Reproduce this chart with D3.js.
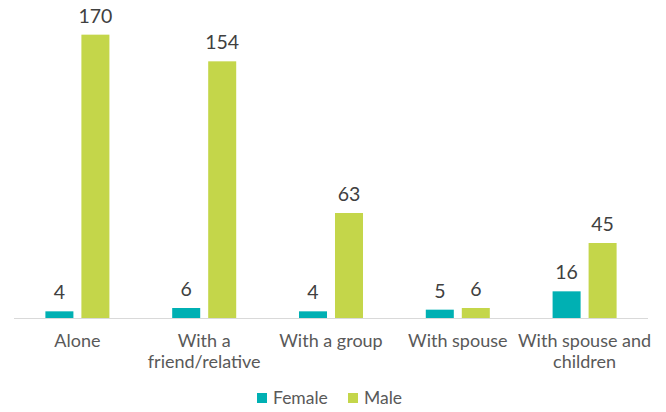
<!DOCTYPE html>
<html>
<head>
<meta charset="utf-8">
<script src="https://cdn.jsdelivr.net/npm/d3@7"></script>
<style>
  body { margin: 0; background: #fff; }
  svg { font-family: Lato, "Open Sans", sans-serif; }
</style>
</head>
<body>
<div id="chart"></div>
<script>
// data
var categories = ["Alone", "With a\nfriend/relative", "With a group", "With spouse", "With spouse and\nchildren"];
var seriesNames = ["Female", "Male"];
var female = [4, 6, 4, 5, 16];
var male = [170, 154, 63, 6, 45];
var colors = ["#00B0B3", "#C4D64A"];

var width = 666, height = 412;
var left = 14, right = 648, baseline = 318;

var svg = d3.select("#chart").append("svg")
    .attr("width", width)
    .attr("height", height);

var x0 = d3.scaleBand().domain(categories).range([left, right]).paddingInner(0).paddingOuter(0);
var x1 = d3.scaleBand().domain(seriesNames).range([0, x0.bandwidth()]).paddingInner(0.222).paddingOuter(0.872);
var y = d3.scaleLinear().domain([0, 180]).range([baseline, 18]);

var rows = categories.map(function(c, i) {
  return {cat: c, vals: [female[i], male[i]]};
});

var groups = svg.selectAll(".grp").data(rows).enter().append("g")
    .attr("transform", function(d) { return "translate(" + x0(d.cat) + ",0)"; });

groups.selectAll("rect").data(function(d) { return d.vals; }).enter().append("rect")
    .attr("x", function(d, i) { return x1(seriesNames[i]); })
    .attr("width", x1.bandwidth())
    .attr("y", function(d) { return y(d); })
    .attr("height", function(d) { return baseline - y(d); })
    .attr("fill", function(d, i) { return colors[i]; });

groups.selectAll(".val").data(function(d) { return d.vals; }).enter().append("text")
    .attr("x", function(d, i) { return x1(seriesNames[i]) + x1.bandwidth() / 2; })
    .attr("y", function(d) { return y(d) - 12; })
    .attr("text-anchor", "middle")
    .attr("font-size", 19.5)
    .attr("fill", "#404040")
    .text(function(d) { return d; });

// axis line
svg.append("line")
    .attr("x1", left).attr("x2", right)
    .attr("y1", baseline + 0.5).attr("y2", baseline + 0.5)
    .attr("stroke", "#d9d9d9");

// category labels
var cl = svg.selectAll(".cat").data(categories).enter().append("text")
    .attr("x", function(d) { return x0(d) + x0.bandwidth() / 2; })
    .attr("y", 347)
    .attr("text-anchor", "middle")
    .attr("font-size", 18)
    .attr("fill", "#595959");
cl.each(function(d) {
  var t = d3.select(this);
  d.split("\n").forEach(function(line, i) {
    t.append("tspan").attr("x", t.attr("x")).attr("dy", i ? 20.5 : 0).text(line);
  });
});

// legend
var legX = [257, 348];
var leg = svg.selectAll(".leg").data(seriesNames).enter().append("g")
    .attr("transform", function(d, i) { return "translate(" + legX[i] + ",393)"; });
leg.append("rect").attr("width", 10).attr("height", 10)
    .attr("fill", function(d, i) { return colors[i]; });
leg.append("text").attr("x", 16).attr("y", 10.5)
    .attr("font-size", 17.5).attr("fill", "#595959")
    .text(function(d) { return d; });
</script>
</body>
</html>
